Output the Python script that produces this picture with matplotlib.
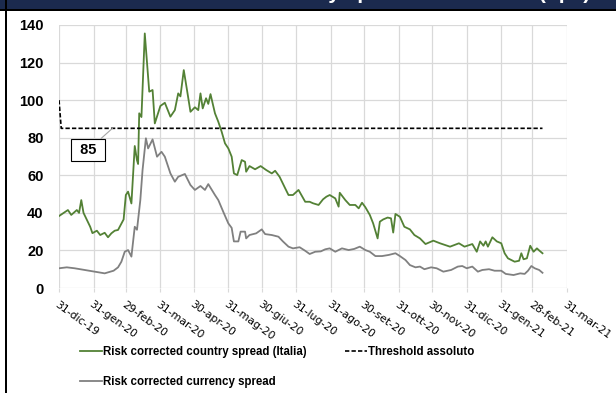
import matplotlib
matplotlib.use("Agg")
import matplotlib.pyplot as plt
from matplotlib.patches import Rectangle
import pandas as pd

# risk corrected country spread (Italia), bps
country_dates = [
    "2019-12-31", "2020-01-08", "2020-01-11", "2020-01-16", "2020-01-18", "2020-01-20",
    "2020-01-22", "2020-01-28", "2020-01-30", "2020-02-03", "2020-02-06", "2020-02-10",
    "2020-02-13", "2020-02-16", "2020-02-19", "2020-02-22", "2020-02-27", "2020-02-29",
    "2020-03-02", "2020-03-05", "2020-03-08", "2020-03-10", "2020-03-11", "2020-03-12",
    "2020-03-14", "2020-03-17", "2020-03-21", "2020-03-24", "2020-03-26", "2020-03-31",
    "2020-04-04", "2020-04-09", "2020-04-13", "2020-04-16", "2020-04-18", "2020-04-21",
    "2020-04-24", "2020-04-27", "2020-05-01", "2020-05-04", "2020-05-06", "2020-05-08",
    "2020-05-11", "2020-05-13", "2020-05-15", "2020-05-19", "2020-05-22", "2020-05-25",
    "2020-05-28", "2020-05-31", "2020-06-03", "2020-06-05", "2020-06-08", "2020-06-12",
    "2020-06-15", "2020-06-16", "2020-06-19", "2020-06-24", "2020-06-29", "2020-07-04",
    "2020-07-09", "2020-07-12", "2020-07-16", "2020-07-21", "2020-07-24", "2020-07-28",
    "2020-08-02", "2020-08-08", "2020-08-12", "2020-08-15", "2020-08-20", "2020-08-24",
    "2020-08-27", "2020-08-30", "2020-09-04", "2020-09-07", "2020-09-08", "2020-09-13",
    "2020-09-17", "2020-09-22", "2020-09-25", "2020-09-28", "2020-10-01", "2020-10-05",
    "2020-10-08", "2020-10-12", "2020-10-14", "2020-10-17", "2020-10-21", "2020-10-24",
    "2020-10-26", "2020-10-28", "2020-11-01", "2020-11-05", "2020-11-10", "2020-11-14",
    "2020-11-19", "2020-11-24", "2020-12-01", "2020-12-07", "2020-12-16", "2020-12-24",
    "2020-12-29", "2021-01-05", "2021-01-09", "2021-01-12", "2021-01-15", "2021-01-17",
    "2021-01-19", "2021-01-23", "2021-01-27", "2021-01-31", "2021-02-03", "2021-02-06",
    "2021-02-12", "2021-02-16", "2021-02-18", "2021-02-20", "2021-02-23", "2021-02-26",
    "2021-03-01", "2021-03-04", "2021-03-06", "2021-03-09",
]
country_vals = [
    38.3, 41.5, 38.9, 41.5, 40.0, 46.8,
    40.0, 32.6, 29.2, 30.5, 28.2, 29.4,
    27.0, 29.1, 30.5, 30.9, 36.5, 49.5,
    51.3, 45.0, 75.6, 68.0, 66.0, 93.0,
    91.0, 135.5, 104.5, 105.4, 87.6, 96.9,
    98.6, 91.2, 94.7, 103.6, 102.0, 116.0,
    105.0, 93.8, 96.2, 94.7, 103.6, 95.6,
    101.0, 98.0, 103.2, 93.0, 88.5, 83.2,
    77.0, 74.3, 69.9, 61.0, 60.1, 68.1,
    67.2, 61.9, 64.9, 63.2, 64.9, 62.8,
    61.0, 62.4, 59.2, 53.1, 49.5, 49.5,
    52.2, 45.9, 45.9, 45.1, 44.2, 47.2,
    48.6, 49.5, 47.7, 43.3, 50.7, 46.8,
    44.2, 44.2, 42.4, 45.4, 43.0, 38.9,
    34.4, 26.4, 35.3, 36.5, 37.5, 37.1,
    29.5, 39.4, 37.9, 32.6, 31.2, 28.2,
    26.4, 23.4, 25.2, 23.8, 22.0, 23.8,
    22.0, 23.4, 19.3, 24.8, 22.5, 24.8,
    22.0, 27.0, 24.8, 23.8, 18.5, 15.8,
    14.0, 14.5, 18.5, 15.3, 15.8, 22.5,
    19.3, 21.1, 20.0, 18.5,
]

# risk corrected currency spread, bps
currency_dates = [
    "2019-12-31", "2020-01-07", "2020-01-14", "2020-01-23", "2020-02-01", "2020-02-10",
    "2020-02-18", "2020-02-22", "2020-02-25", "2020-02-28", "2020-03-02", "2020-03-05",
    "2020-03-08", "2020-03-10", "2020-03-13", "2020-03-15", "2020-03-18", "2020-03-20",
    "2020-03-24", "2020-03-28", "2020-04-01", "2020-04-04", "2020-04-09", "2020-04-13",
    "2020-04-16", "2020-04-22", "2020-04-27", "2020-05-01", "2020-05-06", "2020-05-10",
    "2020-05-13", "2020-05-19", "2020-05-22", "2020-05-27", "2020-05-31", "2020-06-03",
    "2020-06-05", "2020-06-09", "2020-06-11", "2020-06-15", "2020-06-16", "2020-06-19",
    "2020-06-25", "2020-06-30", "2020-07-03", "2020-07-09", "2020-07-15", "2020-07-19",
    "2020-07-24", "2020-07-28", "2020-08-03", "2020-08-08", "2020-08-12", "2020-08-17",
    "2020-08-22", "2020-08-26", "2020-08-30", "2020-09-04", "2020-09-10", "2020-09-16",
    "2020-09-21", "2020-09-26", "2020-10-01", "2020-10-05", "2020-10-10", "2020-10-16",
    "2020-10-22", "2020-10-28", "2020-11-01", "2020-11-06", "2020-11-10", "2020-11-15",
    "2020-11-19", "2020-11-23", "2020-11-29", "2020-12-04", "2020-12-10", "2020-12-17",
    "2020-12-23", "2020-12-27", "2020-12-31", "2021-01-05", "2021-01-10", "2021-01-14",
    "2021-01-20", "2021-01-25", "2021-01-31", "2021-02-04", "2021-02-11", "2021-02-17",
    "2021-02-21", "2021-02-24", "2021-02-27", "2021-03-02", "2021-03-06", "2021-03-09",
]
currency_vals = [
    10.5, 11.0, 10.5, 9.6, 8.7, 7.8,
    9.2, 11.0, 14.0, 19.3, 20.2, 16.7,
    32.6, 31.0, 46.8, 62.8, 79.7, 74.3,
    79.1, 69.9, 72.5, 69.9, 61.0, 56.6,
    59.2, 60.7, 54.8, 52.2, 54.3, 52.2,
    55.3, 49.5, 46.8, 39.8, 34.4, 32.0,
    24.8, 24.8, 30.0, 30.0, 26.4, 28.2,
    29.1, 31.2, 28.7, 28.2, 27.3, 24.8,
    22.0, 21.1, 21.7, 19.8, 18.1, 19.3,
    19.5, 20.6, 21.1, 19.3, 21.1, 20.2,
    20.8, 22.0, 20.2, 19.3, 17.0, 17.0,
    17.6, 18.5, 17.0, 14.9, 12.2, 11.0,
    11.4, 10.0, 11.0, 10.5, 8.7, 9.6,
    11.4, 11.7, 10.5, 11.4, 8.7, 9.6,
    10.0, 9.2, 9.2, 7.5, 6.9, 7.8,
    7.5, 9.2, 11.7, 10.5, 9.6, 8.1,
]

# threshold assoluto
threshold_dates = ["2019-12-31", "2020-01-02", "2021-03-09"]
threshold_vals = [100, 85, 85]

tick_dates = [
    "2019-12-31", "2020-01-31", "2020-02-29", "2020-03-31", "2020-04-30", "2020-05-31",
    "2020-06-30", "2020-07-31", "2020-08-31", "2020-09-30", "2020-10-31", "2020-11-30",
    "2020-12-31", "2021-01-31", "2021-02-28", "2021-03-31",
]
tick_labels = [
    "31-dic-19", "31-gen-20", "29-feb-20", "31-mar-20", "30-apr-20", "31-mag-20",
    "30-giu-20", "31-lug-20", "31-ago-20", "30-set-20", "31-ott-20", "30-nov-20",
    "31-dic-20", "31-gen-21", "28-feb-21", "31-mar-21",
]

W, H = 616, 393
fig = plt.figure(figsize=(W / 100, H / 100), dpi=100)
fig.patch.set_facecolor("white")

ax = fig.add_axes([59 / W, 1 - 288 / H, (567 - 59) / W, (288 - 25) / H])

ax.plot(pd.to_datetime(country_dates), country_vals, color="#538135", lw=1.3,
        label="Risk corrected country spread (Italia)", zorder=3)
ax.plot(pd.to_datetime(currency_dates), currency_vals, color="#808080", lw=1.3,
        label="Risk corrected currency spread", zorder=3)
ax.plot(pd.to_datetime(threshold_dates), threshold_vals, color="black", lw=1.2,
        linestyle=(0, (2.6, 1.3)), label="Threshold assoluto", zorder=4)

# label box for the threshold value
ax.annotate(" 85 ", xy=(pd.Timestamp("2020-02-17"), 85),
            xytext=(pd.Timestamp("2020-01-26"), 73.4),
            ha="center", va="center", fontsize=10.5, fontweight="bold",
            family="Liberation Sans",
            bbox=dict(boxstyle="square,pad=0.3", fc="white", ec="black", lw=0.8),
            arrowprops=dict(arrowstyle="-", color="#a6a6a6", lw=0.8,
                            shrinkA=0, shrinkB=0),
            zorder=5)

ax.set_xlim(pd.Timestamp("2019-12-31"), pd.Timestamp("2021-03-31"))
ax.set_ylim(0, 140)
ax.set_yticks(range(0, 141, 20))
ax.set_xticks(pd.to_datetime(tick_dates))
ax.set_xticklabels(tick_labels, rotation=-36, ha="left", va="top",
                   rotation_mode="anchor", fontsize=7.8)
for lab in ax.get_yticklabels():
    lab.set_fontweight("bold")
    lab.set_fontfamily("Liberation Sans")
    lab.set_fontsize(10.5)

ax.grid(True, color="#d9d9d9", lw=0.9)
ax.set_axisbelow(True)
for s in ax.spines.values():
    s.set_visible(False)
ax.tick_params(axis="y", length=0, pad=11)
ax.tick_params(axis="x", length=3, color="#d9d9d9", pad=5)

handles, labels = ax.get_legend_handles_labels()
fig.legend(handles, labels, loc="upper left", bbox_to_anchor=(80 / W, 1 - 346 / H),
           ncol=2, frameon=False, borderpad=0, borderaxespad=0,
           handlelength=1.9, handletextpad=0.1, columnspacing=3.3,
           labelspacing=1.6,
           prop={"family": "Liberation Sans", "weight": "bold", "size": 8.3})

# header bar (title cut off at the top edge) and frame lines
hax = fig.add_axes([0, 1 - 9 / H, 1, 9 / H])
hax.set_facecolor("#1b2a4e")
hax.set_xticks([])
hax.set_yticks([])
for s in hax.spines.values():
    s.set_visible(False)
hax.text(590 / W, 1.15, "Risk corrected country spread e threshold (bps)",
         transform=hax.transAxes, ha="right", va="baseline", color="white",
         fontsize=15, fontweight="bold", family="Liberation Sans", clip_on=True)

fig.add_artist(Rectangle((0, 1 - 11 / H), 1, 2 / H, transform=fig.transFigure,
                         color="black", lw=0))
fig.add_artist(Rectangle((5 / W, 0), 2 / W, 1, transform=fig.transFigure,
                         color="black", lw=0))

fig.savefig("out.png", dpi=100)
